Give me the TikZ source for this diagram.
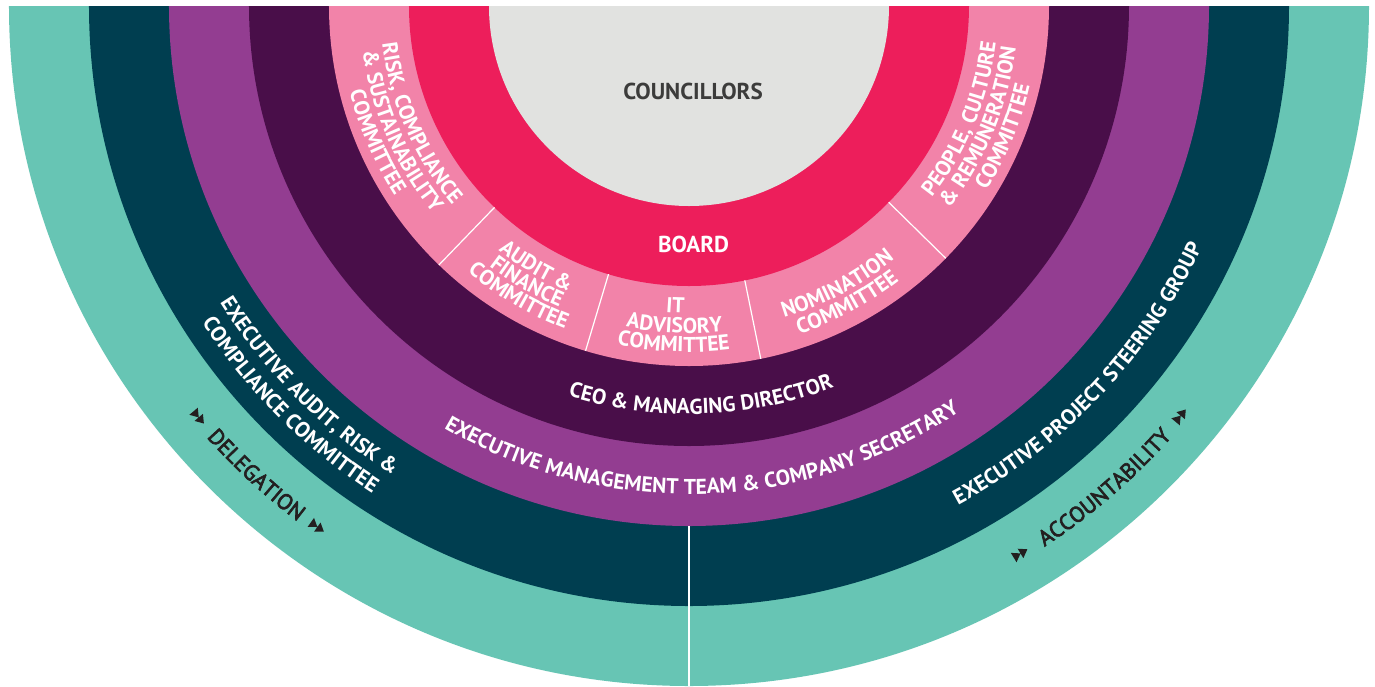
\documentclass[tikz,border=0pt]{standalone}
\usepackage{fontspec}
\setmainfont{PT Sans}
\newfontfamily\delfont{PT Sans}[FakeBold=3]
\usetikzlibrary{decorations.text}
\definecolor{cTeal}{HTML}{67C5B4}
\definecolor{cDTeal}{HTML}{003E50}
\definecolor{cPurple}{HTML}{933D91}
\definecolor{cDPurple}{HTML}{490E49}
\definecolor{cLPink}{HTML}{F283A9}
\definecolor{cRed}{HTML}{ED1E5B}
\definecolor{cGrey}{HTML}{E1E2E0}
\definecolor{cTxtGrey}{HTML}{3C3C3B}
\definecolor{cTxtDark}{HTML}{231F20}
\newcommand\fW{\bfseries\fontsize{21.5}{25}\selectfont}
\newcommand\fBig{\bfseries\fontsize{23}{27}\selectfont}
\newcommand\fD{\delfont\fontsize{22}{26}\selectfont}
% radius, centre angle, text, colour, font
\newcommand\ringtext[5]{%
  \path[decorate, decoration={text along path, text align=center, text color=#4, text={|#5|#3}}]
    (#2-70:#1) arc[start angle=#2-70, end angle=#2+70, radius=#1];}
\tikzset{
  sepline/.style={white, line width=1.2pt},
  ffmark/.pic={\fill[cTxtDark] (-8,-5.5) -- (0,0) -- (-8,5.5) -- cycle (0,-5.5) -- (8,0) -- (0,5.5) -- cycle;}
}
\begin{document}
\begin{tikzpicture}[x=1pt,y=1pt]
\useasboundingbox (-689,-680) rectangle (686,6);
\fill[white] (-689,-680) rectangle (686,6);
\foreach \r/\c in {680/cTeal,600/cDTeal,520/cPurple,440/cDPurple,360/cLPink,280/cRed,200/cGrey}
  \fill[\c] (-\r,0) arc[start angle=180,end angle=360,radius=\r] -- cycle;
\foreach \a in {-134,-106.7,-78.5,-44.5}
  \draw[sepline] (\a:280) -- (\a:360);
\draw[white, line width=1.3pt] (-90:520) -- (0,-680);
\node[font=\fBig, text=cTxtGrey] (councillors) at (4,-85) {COUNCILLORS};
\node[font=\fBig, text=white] (board) at (4.5,-238) {BOARD};
% risk
\ringtext{309}{-156.5}{RISK, COMPLIANCE}{white}{\fW}
\ringtext{329.5}{-156.5}{{\&} SUSTAINABILITY}{white}{\fW}
\ringtext{350}{-156.5}{COMMITTEE}{white}{\fW}
% audit
\ringtext{310}{-120.4}{AUDIT {\&}}{white}{\fW}
\ringtext{328}{-120.4}{FINANCE}{white}{\fW}
\ringtext{346}{-120.4}{COMMITTEE}{white}{\fW}
% IT
\ringtext{307}{-92.6}{IT}{white}{\fW}
\ringtext{327}{-92.6}{ADVISORY}{white}{\fW}
\ringtext{346}{-92.6}{COMMITTEE}{white}{\fW}
% nomination
\ringtext{326}{-62}{NOMINATION}{white}{\fW}
\ringtext{346}{-62}{COMMITTEE}{white}{\fW}
% people
\ringtext{309}{-22.5}{PEOPLE, CULTURE}{white}{\fW}
\ringtext{329.5}{-22.5}{{\&} REMUNERATION}{white}{\fW}
\ringtext{350}{-22.5}{COMMITTEE}{white}{\fW}
% outer rings
\ringtext{408}{-88.2}{CEO {\&} MANAGING DIRECTOR}{white}{\fW}
\ringtext{488}{-88.2}{EXECUTIVE MANAGEMENT TEAM {\&} COMPANY SECRETARY}{white}{\fW}
\ringtext{555}{-135}{EXECUTIVE AUDIT, RISK {\&}}{white}{\fW}
\ringtext{581}{-135}{COMPLIANCE COMMITTEE}{white}{\fW}
\ringtext{567}{-43.4}{EXECUTIVE PROJECT STEERING GROUP}{white}{\fW}
\ringtext{647}{-132.7}{DELEGATION}{cTxtDark}{\fD}
\ringtext{647}{-49.2}{ACCOUNTABILITY}{cTxtDark}{\fD}
\pic[rotate=-140+90] at (-140:640) {ffmark};
\pic[rotate=-125.5+90] at (-125.5:640) {ffmark};
\pic[rotate=-58.8+90] at (-58.8:640) {ffmark};
\pic[rotate=-39.8+90] at (-39.8:640) {ffmark};
\end{tikzpicture}
\end{document}
